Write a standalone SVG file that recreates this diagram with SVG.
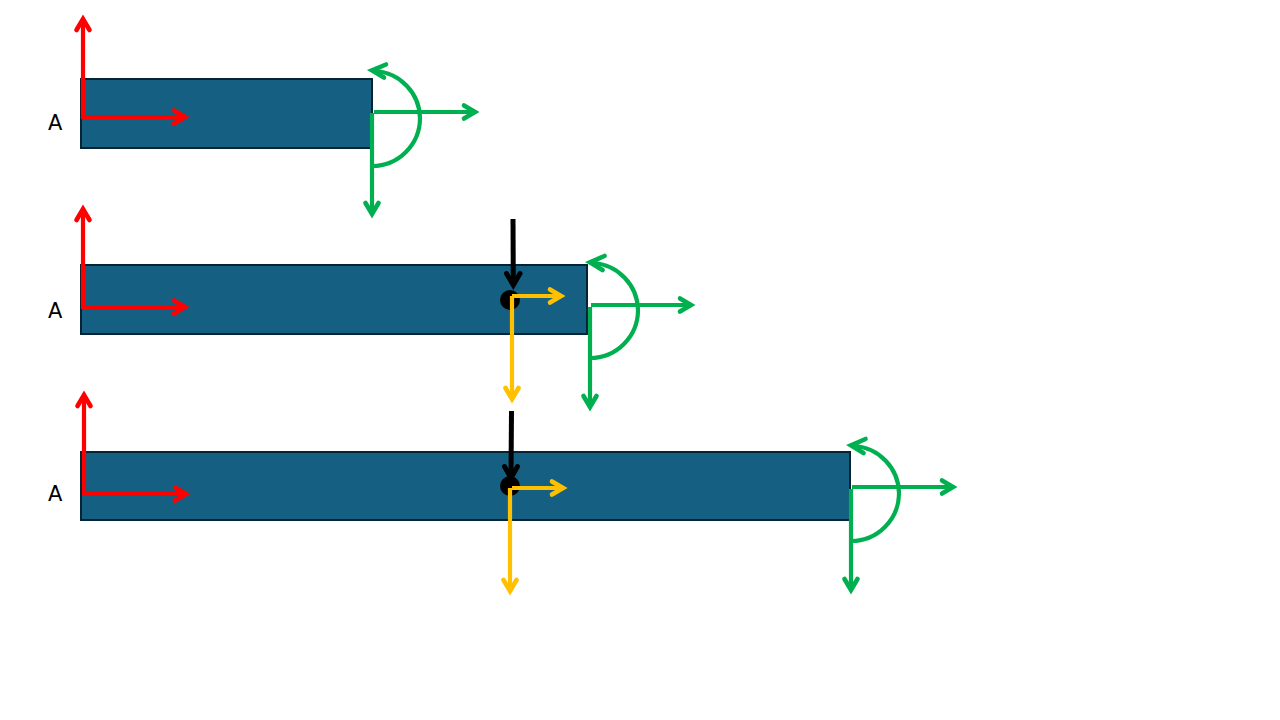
<svg xmlns="http://www.w3.org/2000/svg" width="1280" height="720" viewBox="0 0 1280 720">
<style>
.beam{fill:#156082;stroke:#042433;stroke-width:2}
.label{font-family:"DejaVu Sans","Noto Sans",sans-serif;font-size:21px;fill:#000}
.c{fill:none;stroke-width:4.2}
.r{stroke:#ff0000}.g{stroke:#00b050}.y{stroke:#ffc000}.k{stroke:#000}
.h{fill:none;stroke-width:4.6;stroke-linecap:round;stroke-linejoin:miter;stroke-miterlimit:10}
.b{stroke-width:5}
</style>
<rect width="1280" height="720" fill="#fff"/>
<g id="beam1"><rect class="beam" x="81" y="79" width="291" height="69"/><text class="label" x="48" y="130">A</text></g>
<g id="beam2"><rect class="beam" x="81" y="265" width="506" height="69"/><text class="label" x="48" y="318">A</text></g>
<g id="beam3"><rect class="beam" x="81" y="452" width="769" height="68"/><text class="label" x="48" y="501">A</text></g>
<g id="hinge2"><circle cx="510" cy="300" r="10" fill="#000"/></g>
<g id="hinge3"><circle cx="510" cy="486" r="10" fill="#000"/></g>
<g id="connectors">
<!-- red -->
<path class="c r" d="M83 118V21"/><path class="h r" d="M76.500 30L83 19L89.500 30"/>
<path class="c r" d="M81 117H183"/><path class="h r" d="M174 110.500L185 117L174 123.500"/>
<path class="c r" d="M83 306V211"/><path class="h r" d="M76.500 220L83 209L89.500 220"/>
<path class="c r" d="M81 307H183"/><path class="h r" d="M174 300.500L185 307L174 313.500"/>
<path class="c r" d="M84 495V397"/><path class="h r" d="M77.500 406L84 395L90.500 406"/>
<path class="c r" d="M82 494H184"/><path class="h r" d="M175 487.500L186 494L175 500.500"/>
<!-- green 1 -->
<path class="c g" d="M374 112H473"/><path class="h g" d="M464 105.500L475 112L464 118.500"/>
<path class="c g" d="M372 113V212"/><path class="h g" d="M365.500 203L372 214L378.500 203"/>
<path class="c g" d="M372 166A48 48 0 0 0 420 118A48 48 0 0 0 375 71"/><path class="h g" d="M386 64.500L372 70.300L384 77.500"/>
<!-- green 2 -->
<path class="c g" d="M591 305H689"/><path class="h g" d="M680 298.500L691 305L680 311.500"/>
<path class="c g" d="M590 307V405"/><path class="h g" d="M583.500 396L590 407L596.500 396"/>
<path class="c g" d="M590 358A48 48 0 0 0 638 310A48 48 0 0 0 593 263"/><path class="h g" d="M604.500 256L590 262.300L602.500 270"/>
<!-- green 3 -->
<path class="c g" d="M852 487H951"/><path class="h g" d="M942 480.500L953 487L942 493.500"/>
<path class="c g" d="M851 489V588"/><path class="h g" d="M844.500 579L851 590L857.500 579"/>
<path class="c g" d="M851 541A48 48 0 0 0 899 493A48 48 0 0 0 854 446"/><path class="h g" d="M865.500 439L851 445.300L863.500 453"/>
<!-- black -->
<path class="c k b" d="M513 219L513.300 283"/><path class="h k b" d="M506.500 273.500L513.300 285L520 273.500"/>
<path class="c k b" d="M511.500 411L511 476"/><path class="h k b" d="M504.500 466.500L511 478L517.500 466.500"/>
<!-- yellow -->
<path class="c y" d="M512 296H559"/><path class="h y" d="M550 289.500L561 296L550 302.500"/>
<path class="c y" d="M512 296V397"/><path class="h y" d="M505.500 388L512 399L518.500 388"/>
<path class="c y" d="M512 488H561"/><path class="h y" d="M552 481.500L563 488L552 494.500"/>
<path class="c y" d="M510 488V589"/><path class="h y" d="M503.500 580L510 591L516.500 580"/>
</g>
</svg>
